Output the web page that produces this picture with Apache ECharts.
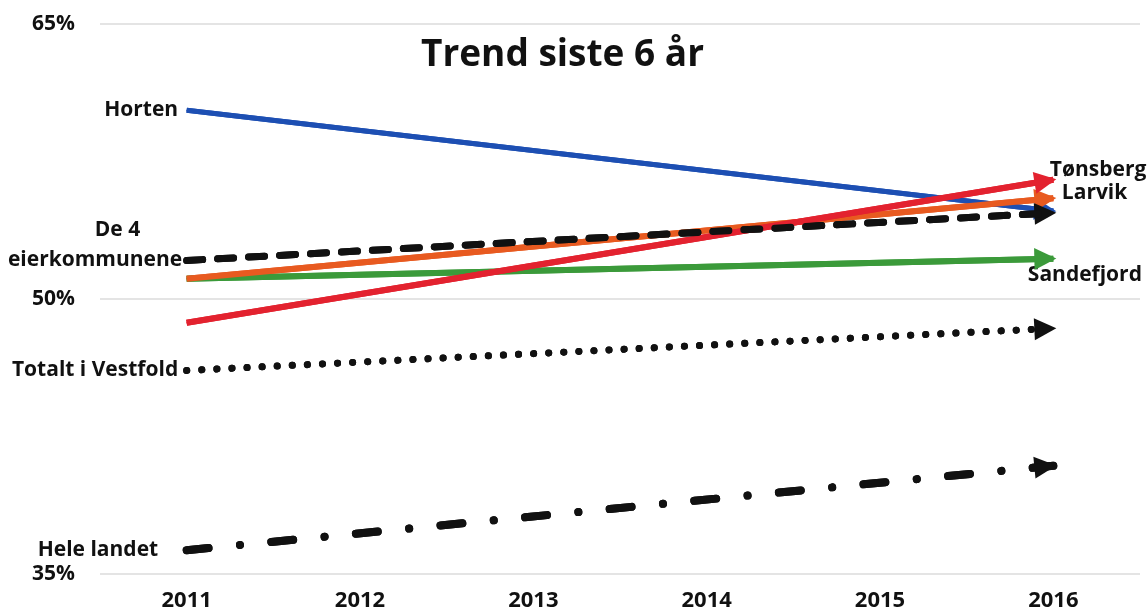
<!DOCTYPE html>
<html>
<head>
<meta charset="utf-8">
<script src="https://cdn.jsdelivr.net/npm/echarts@6/dist/echarts.min.js"></script>
<style>html,body{margin:0;padding:0;background:#fff}#c{width:1148px;height:615px}</style>
</head>
<body>
<div id="c"></div>
<script>
const years = ['2011', '2012', '2013', '2014', '2015', '2016'];
const horten     = [60.3, null, null, null, null, 54.8];
const tonsberg   = [48.7, null, null, null, null, 56.5];
const larvik     = [51.1, null, null, null, null, 55.5];
const de4        = [52.1, null, null, null, null, 54.7];
const sandefjord = [51.1, null, null, null, null, 52.2];
const vestfold   = [46.1, null, null, null, null, 48.4];
const heleLandet = [36.3, null, null, null, null, 40.9];
const yTicks = [35, 50, 65];

const FONT = 'Open Sans';
const TXT = '#111';
const LFS = 21;

function mk(name, values, color, width, type, opts) {
  const data = values.map(v => v);
  const lbl = opts.labels || {};
  Object.keys(lbl).forEach(i => {
    data[i] = { value: values[i], label: Object.assign({ show: true, color: TXT, fontFamily: FONT, fontWeight: 'bold', fontSize: LFS }, lbl[i]) };
  });
  const ls = { color: color, width: width, type: type, cap: type === 'solid' ? 'butt' : 'round' };
  return {
    name: name,
    type: 'line',
    data: data,
    connectNulls: true,
    symbol: 'circle',
    symbolSize: 1,
    showSymbol: true,
    itemStyle: { color: color },
    lineStyle: ls,
    label: { show: false },
    z: opts.z,
    markLine: {
      silent: true,
      symbol: ['none', 'triangle'],
      symbolSize: [22, 22],
      symbolOffset: [[0, 0], [0, 8]],
      label: { show: false },
      lineStyle: ls,
      emphasis: { disabled: true },
      data: [[{ coord: [years[0], values[0]] }, { coord: [years[5], values[5]] }]]
    }
  };
}

const chart = echarts.init(document.getElementById('c'));
chart.setOption({
  animation: false,
  title: {
    text: 'Trend siste 6 år',
    left: 416, top: 32,
    textStyle: { fontFamily: FONT, fontWeight: 'bold', fontSize: 37, color: TXT }
  },
  grid: { left: 100, right: 8, top: 24, bottom: 41 },
  xAxis: {
    type: 'category',
    data: years,
    boundaryGap: true,
    axisLine: { show: false },
    axisTick: { show: false },
    axisLabel: { color: TXT, fontFamily: FONT, fontWeight: 'bold', fontSize: 22, margin: 16 }
  },
  yAxis: {
    type: 'value',
    min: 35, max: 65, interval: 15,
    axisLine: { show: false },
    axisTick: { show: false },
    splitLine: { lineStyle: { color: '#e4e4e4', width: 2 } },
    axisLabel: {
      color: TXT, fontFamily: FONT, fontWeight: 'bold', fontSize: 21, margin: 25,
      formatter: v => yTicks.indexOf(v) >= 0 ? v + '%' : ''
    }
  },
  series: [
    mk('Sandefjord', sandefjord, '#3b9a3a', 6, 'solid', { z: 2,
      labels: { 5: { position: 'right', distance: 0, offset: [-26, 16], formatter: 'Sandefjord' } } }),
    mk('Horten', horten, '#1d4fb3', 5, 'solid', { z: 3,
      labels: { 0: { position: 'left', distance: 8, formatter: 'Horten' } } }),
    mk('Larvik', larvik, '#e85a20', 6, 'solid', { z: 4,
      labels: { 5: { position: 'right', distance: 8, offset: [0, -5], formatter: 'Larvik' } } }),
    mk('Tønsberg', tonsberg, '#e3222f', 6, 'solid', { z: 5,
      labels: { 5: { position: 'right', distance: 0, offset: [-4, -10], formatter: 'Tønsberg' } } }),
    mk('De 4 eierkommunene', de4, '#111', 7, [16, 15], { z: 6,
      labels: { 0: { position: 'left', distance: 4, offset: [0, -15], formatter: '{a|De 4}\n{b|eierkommunene}', align: 'right', lineHeight: 30,
        rich: { a: { padding: [0, 42, 0, 0], fontFamily: FONT, fontWeight: 'bold', fontSize: LFS, color: TXT, lineHeight: 30 },
                b: { fontFamily: FONT, fontWeight: 'bold', fontSize: LFS, color: TXT, lineHeight: 30 } } } } }),
    mk('Totalt i Vestfold', vestfold, '#111', 7, [0.1, 15], { z: 7,
      labels: { 0: { position: 'left', distance: 8, formatter: 'Totalt i Vestfold' } } }),
    mk('Hele landet', heleLandet, '#111', 8, [22, 31.5, 0.1, 31.4], { z: 8,
      labels: { 0: { position: 'left', distance: 28, formatter: 'Hele landet' } } })
  ]
});
</script>
</body>
</html>
